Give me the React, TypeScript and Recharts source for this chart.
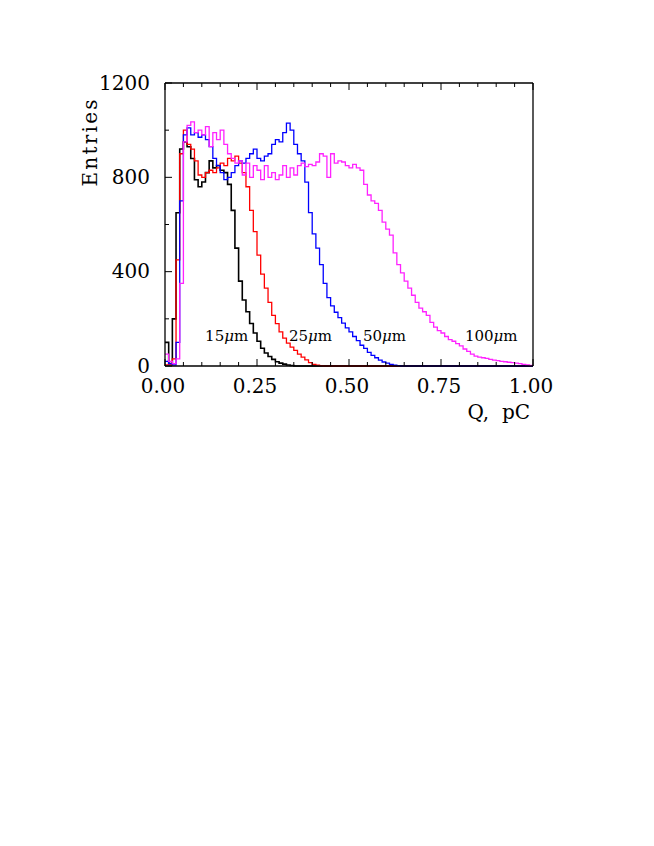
import React from 'react'
import { LineChart, Line, XAxis, YAxis, ReferenceDot } from 'recharts'

// bin contents, 0.01 pC bins from 0.00 to 1.00
const BIN_WIDTH = 0.01
const N_BINS = 100

const H15 = [
  100, 10, 200, 650, 920, 950, 930, 880, 790, 760,
  780, 820, 870, 840, 850, 830, 820, 770, 660, 500,
  360, 280, 230, 180, 140, 105, 75, 55, 40, 28,
  18, 12, 8, 4, 2, 0, 0, 0, 0, 0,
  ...Array(60).fill(0),
]

const H25 = [
  5, 5, 30, 450, 900, 1000, 940, 920, 870, 810,
  800, 820, 830, 820, 840, 860, 850, 880, 870, 890,
  860, 820, 760, 660, 570, 470, 390, 330, 270, 215,
  180, 145, 118, 97, 80, 66, 50, 38, 26, 14,
  7, 4, 2, 0, 0, 0, 0, 0, 0, 0,
  ...Array(50).fill(0),
]

const H50 = [
  20, 10, 5, 100, 700, 980, 1010, 980, 990, 970,
  980, 960, 930, 880, 850, 820, 790, 800, 820, 850,
  870, 860, 880, 900, 920, 880, 870, 890, 900, 940,
  960, 950, 990, 1030, 1000, 940, 900, 870, 780, 650,
  560, 500, 430, 350, 290, 255, 228, 205, 182, 162,
  145, 125, 108, 88, 75, 58, 45, 35, 25, 17,
  12, 7, 4, 2, 0, 0, 0, 0, 0, 0,
  ...Array(30).fill(0),
]

const H100 = [
  50, 20, 10, 30, 350, 950, 1020, 1035, 990, 1000,
  980, 1015, 930, 990, 960, 1000, 940, 900, 880, 860,
  870, 810, 860, 800, 850, 830, 790, 850, 800, 820,
  790, 810, 850, 800, 840, 810, 850, 860, 845, 855,
  850, 865, 900, 890, 800, 900, 860, 870, 865, 850,
  840, 855, 840, 830, 770, 725, 700, 690, 660, 610,
  580, 555, 480, 430, 395, 360, 330, 300, 270, 245,
  230, 215, 185, 165, 150, 140, 125, 112, 105, 95,
  85, 72, 62, 50, 42, 38, 35, 32, 28, 25,
  23, 20, 18, 16, 14, 12, 10, 7, 5, 3,
]

const X_TICKS = [0, 0.05, 0.1, 0.15, 0.2, 0.25, 0.3, 0.35, 0.4, 0.45, 0.5, 0.55, 0.6, 0.65, 0.7, 0.75, 0.8, 0.85, 0.9, 0.95, 1]
const X_LABELED = [0, 0.25, 0.5, 0.75, 1]
const Y_TICKS = [0, 200, 400, 600, 800, 1000, 1200]
const Y_LABELED = [0, 400, 800, 1200]

const SERIES = [
  { key: 'h15', values: H15, color: '#000000', width: 1.6 },
  { key: 'h25', values: H25, color: '#ff0000', width: 1.3 },
  { key: 'h50', values: H50, color: '#0000ff', width: 1.3 },
  { key: 'h100', values: H100, color: '#ff22ff', width: 1.3 },
]

// label text, left edge in pC, baseline in entries
const NOTES = [
  { num: '15', q: 0.109, v: 106 },
  { num: '25', q: 0.337, v: 106 },
  { num: '50', q: 0.538, v: 106 },
  { num: '100', q: 0.815, v: 106 },
]

const data = Array.from({ length: N_BINS + 1 }, (_, i) => {
  const row: Record<string, number> = { q: +(i * BIN_WIDTH).toFixed(2) }
  SERIES.forEach((s) => {
    row[s.key] = s.values[Math.min(i, N_BINS - 1)]
  })
  return row
})

const FONT = 'DejaVu Serif'
const near = (a: number, list: number[]) => list.some((b) => Math.abs(a - b) < 1e-6)

function makeTick(side: 'bottom' | 'top' | 'left' | 'right') {
  return (props: any) => {
    const { x, y, payload } = props
    const v = payload.value
    const major = side === 'bottom' || side === 'top' ? near(v, X_LABELED) : near(v, Y_LABELED)
    const len = major ? 7 : 4
    let line
    if (side === 'bottom') line = <line x1={x} y1={y} x2={x} y2={y - len} stroke='#000' strokeWidth={1} />
    else if (side === 'top') line = <line x1={x} y1={y} x2={x} y2={y + len} stroke='#000' strokeWidth={1} />
    else if (side === 'left') line = <line x1={x} y1={y} x2={x + len} y2={y} stroke='#000' strokeWidth={1} />
    else line = <line x1={x} y1={y} x2={x - len} y2={y} stroke='#000' strokeWidth={1} />
    let label = null
    if (side === 'bottom' && major) {
      label = (
        <text x={x - 2} y={y + 27} textAnchor='middle' fontSize={20} fontFamily={FONT} fill='#000'>
          {v.toFixed(2)}
        </text>
      )
    }
    if (side === 'left' && major) {
      label = (
        <text x={x - 15} y={y} dy='0.34em' textAnchor='end' fontSize={20} fontFamily={FONT} fill='#000'>
          {v}
        </text>
      )
    }
    return (
      <g>
        {line}
        {label}
      </g>
    )
  }
}

const noteShape = (num: string) => (p: any) => (
  <text x={p.cx} y={p.cy} fontSize={15} fontFamily={FONT} fill='#000'>
    {num}
    <tspan fontStyle='italic'>μ</tspan>m
  </text>
)

export default function App() {
  return (
    <div style={{ width: 560, height: 420, position: 'relative' }}>
      <LineChart width={560} height={420} data={data} margin={{ top: 70, right: 30, bottom: 22, left: 97 }}>
        <XAxis
          dataKey='q'
          type='number'
          domain={[0, 1]}
          ticks={X_TICKS}
          interval={0}
          tickSize={0}
          tickMargin={0}
          tickLine={false}
          tick={makeTick('bottom')}
          axisLine={{ stroke: '#000', strokeWidth: 1.3 }}
          height={40}
        />
        <XAxis
          xAxisId='top'
          orientation='top'
          dataKey='q'
          type='number'
          domain={[0, 1]}
          ticks={X_TICKS}
          interval={0}
          tickSize={0}
          tickMargin={0}
          tickLine={false}
          tick={makeTick('top')}
          axisLine={{ stroke: '#000', strokeWidth: 1.3 }}
          height={5}
        />
        <YAxis
          type='number'
          domain={[0, 1200]}
          ticks={Y_TICKS}
          interval={0}
          tickSize={0}
          tickMargin={0}
          tickLine={false}
          tick={makeTick('left')}
          axisLine={{ stroke: '#000', strokeWidth: 1.3 }}
          width={60}
        />
        <YAxis
          yAxisId='right'
          orientation='right'
          type='number'
          domain={[0, 1200]}
          ticks={Y_TICKS}
          interval={0}
          tickSize={0}
          tickMargin={0}
          tickLine={false}
          tick={makeTick('right')}
          axisLine={{ stroke: '#000', strokeWidth: 1.3 }}
          width={5}
        />
        {SERIES.map((s) => (
          <Line
            key={s.key}
            dataKey={s.key}
            type='stepAfter'
            stroke={s.color}
            strokeWidth={s.width}
            dot={false}
            activeDot={false}
            isAnimationActive={false}
          />
        ))}
        {NOTES.map((n) => (
          <ReferenceDot key={n.num} x={n.q} y={n.v} r={0} ifOverflow='visible' shape={noteShape(n.num)} />
        ))}
      </LineChart>
      <svg width={560} height={420} style={{ position: 'absolute', left: 0, top: 0, pointerEvents: 'none' }}>
        <text
          transform='translate(82,135) rotate(-90)'
          textAnchor='middle'
          dy='0.36em'
          fontSize={20}
          fontFamily={FONT}
          textLength={87}
          lengthAdjust='spacing'
          fill='#000'
        >
          Entries
        </text>
        <text x={522} y={411} textAnchor='end' fontSize={20} fontFamily={FONT} fill='#000' style={{ whiteSpace: 'pre' }}>
          Q,  pC
        </text>
      </svg>
    </div>
  )
}
